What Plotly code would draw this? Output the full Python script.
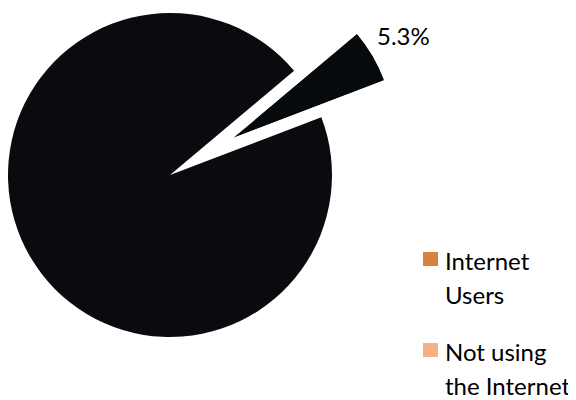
import math
import plotly.graph_objects as go

# ---- data ----
categories = ["Internet Users", "Not using the Internet"]
values = [5.3, 94.7]
slice_label = "5.3%"
legend_lines = [["Internet", "Users"], ["Not using", "the Internet"]]
legend_colors = ["#D8823F", "#F5B183"]
pie_colors = ["#060a0d", "#0c0a0e"]

W, H = 576, 400
OFF = 8                              # page body margin


def fx(px):
    return (px - OFF) / W


def fy(py):
    return 1 - (py - OFF) / H


cx, cy, R = 170, 175, 162            # main pie centre / radius (page px)
start_deg = 40.0                     # math angle where first slice starts
pull_px = 73                         # distance the first slice is pulled out

fig = go.Figure()

# main pie (first slice hidden, it is drawn pulled out below)
fig.add_trace(go.Pie(
    labels=categories, values=values, sort=False, direction="clockwise",
    rotation=90 - start_deg,
    marker=dict(colors=["rgba(0,0,0,0)", pie_colors[1]], line=dict(width=0)),
    textinfo="none", hoverinfo="label+percent", showlegend=False,
    domain=dict(x=[fx(cx - R), fx(cx + R)], y=[fy(cy + R), fy(cy - R)]),
))

# pulled-out slice as a polar bar restricted to its sector
span = values[0] / sum(values) * 360
a0, a1 = start_deg - span, start_deg
mid = (a0 + a1) / 2
px = cx + pull_px * math.cos(math.radians(mid))
py = cy - pull_px * math.sin(math.radians(mid))
bx1 = R * math.cos(math.radians(a0))
by1 = R * math.sin(math.radians(a1))
fig.add_trace(go.Barpolar(
    r=[1], theta=[mid], width=[span], base=0,
    marker=dict(color=pie_colors[0], line=dict(width=0)),
    showlegend=False, hoverinfo="none",
))
fig.update_layout(polar=dict(
    domain=dict(x=[fx(px), fx(px + bx1)], y=[fy(py), fy(py - by1)]),
    sector=[a0, a1], bgcolor="rgba(0,0,0,0)",
    radialaxis=dict(range=[0, 1], visible=False),
    angularaxis=dict(visible=False, direction="counterclockwise", rotation=0),
))

# slice label
fig.add_annotation(x=fx(403), y=fy(35), xref="paper", yref="paper",
                   text=slice_label, showarrow=False, xanchor="center", yanchor="middle",
                   font=dict(size=24, color="#000000"))

# legend (drawn manually)
legend_box = [(252, 266), (343, 357)]
legend_text_y = [(261, 294), (351, 385)]
for col, lines, (y0, y1), tys in zip(legend_colors, legend_lines, legend_box, legend_text_y):
    fig.add_shape(type="rect", xref="paper", yref="paper",
                  x0=fx(423), x1=fx(438), y0=fy(y0), y1=fy(y1),
                  fillcolor=col, line=dict(width=0))
    for t, ty in zip(lines, tys):
        fig.add_annotation(x=fx(443), y=fy(ty), xref="paper", yref="paper",
                           text=t, showarrow=False, xanchor="left", yanchor="middle",
                           font=dict(size=24, color="#000000"))

fig.update_layout(width=W, height=H, margin=dict(l=0, r=0, t=0, b=0),
                  paper_bgcolor="white", plot_bgcolor="white",
                  font=dict(family="Lato, Open Sans, sans-serif"), showlegend=False)
fig.write_html("out.html")
